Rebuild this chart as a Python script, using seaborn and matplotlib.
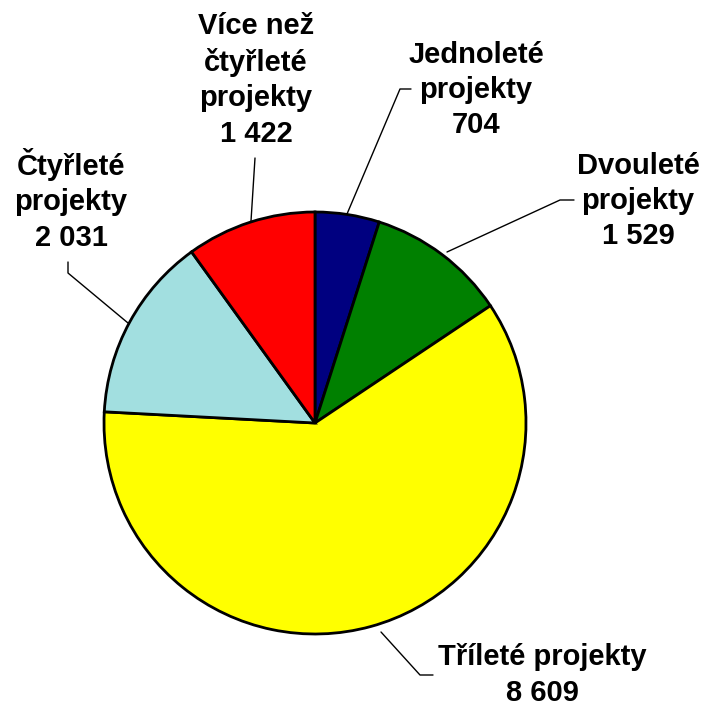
import matplotlib
matplotlib.use("Agg")
import matplotlib.pyplot as plt
import seaborn as sns

# Project counts by duration
labels = ["Jednoleté\nprojekty", "Dvouleté\nprojekty", "Tříleté projekty",
          "Čtyřleté\nprojekty", "Více než\nčtyřleté\nprojekty"]
values = [704, 1529, 8609, 2031, 1422]
value_text = ["704", "1 529", "8 609", "2 031", "1 422"]
colors = ["#000080", "#008000", "#FFFF00", "#A2DFE0", "#FF0000"]

sns.set_theme(style="white")
plt.rcParams['font.family'] = ['Liberation Sans', 'DejaVu Sans']

W, H = 710, 706
fig = plt.figure(figsize=(W / 100, H / 100), dpi=100)
ax = fig.add_axes([0, 0, 1, 1])

cx, cy, r = 315, H - 423, 211
ax.pie(values, colors=colors, startangle=90, counterclock=False,
       center=(cx, cy), radius=r, frame=True,
       wedgeprops=dict(edgecolor="black", linewidth=2))
ax.set_xlim(0, W)
ax.set_ylim(0, H)
ax.set_aspect("equal")
ax.axis("off")

# label positions (pixel coords from top), leader lines
label_pos = [(476, 90), (638, 201), (542, 675), (71, 200), (256, 80)]
leaders = [
    [(347, 214), (400, 89), (411, 89)],
    [(447, 252), (560, 200), (574, 200)],
    [(381, 632), (420, 675), (433, 675)],
    [(68, 262), (68, 273), (128, 323)],
    [(251, 221), (255, 158)],
]

for lab, vt, (x, y), pts in zip(labels, value_text, label_pos, leaders):
    ax.text(x, H - y, lab + "\n" + vt, ha="center", va="center",
            fontsize=21, fontweight="bold", linespacing=1.33, color="black")
    xs = [p[0] for p in pts]
    ys = [H - p[1] for p in pts]
    ax.plot(xs, ys, color="black", linewidth=1)

fig.savefig("out.png", dpi=100)
